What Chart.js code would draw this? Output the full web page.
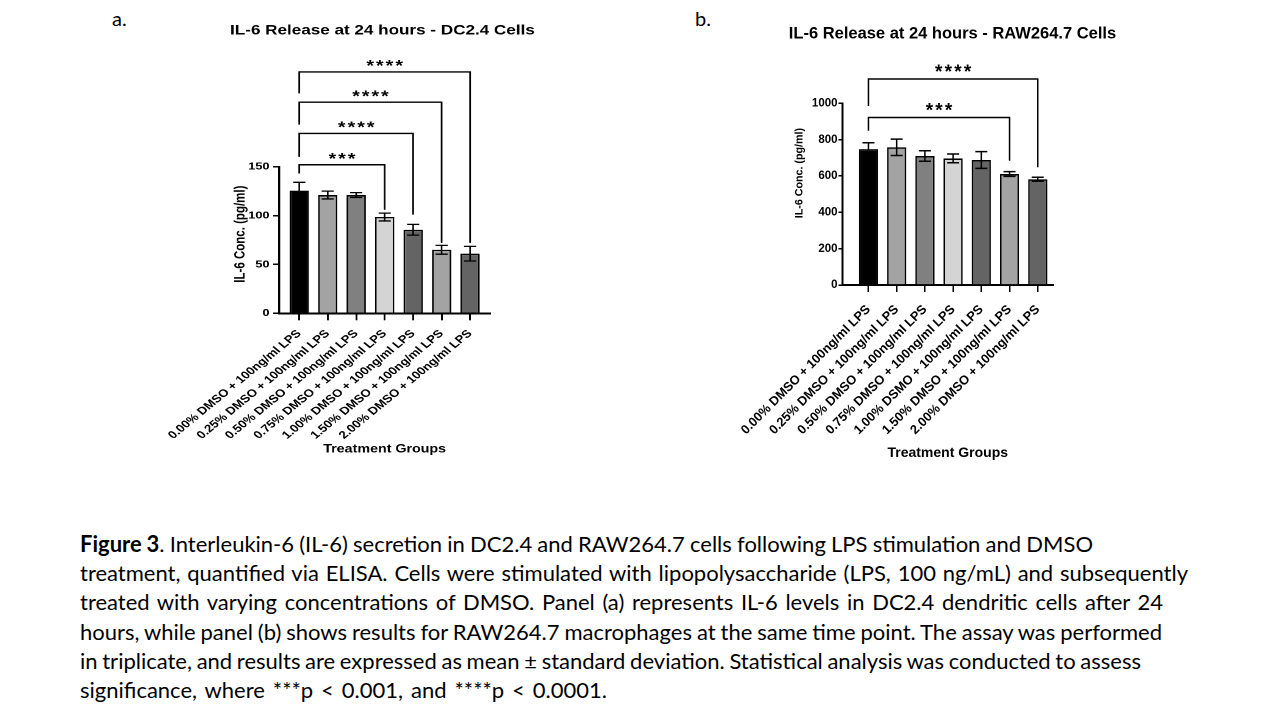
<!DOCTYPE html>
<html>
<head>
<meta charset="utf-8">
<script src="https://cdn.jsdelivr.net/npm/chart.js@4.4.1/dist/chart.umd.min.js"></script>
<style>
  body { margin: 0; width: 1280px; height: 720px; background: #fff; position: relative; overflow: hidden; font-family: Lato, sans-serif; color: #000; }
  .panel { position: absolute; top: 0; height: 470px; }
  #wrapA { left: 150px; width: 381px; transform: scaleX(1.22); transform-origin: 0 0; }
  #wrapB { left: 700px; width: 505px; }
  .tag { position: absolute; top: 4px; font-size: 20px; line-height: 29.2px; }
  #caption { position: absolute; left: 80px; top: 529px; font-size: 22px; line-height: 29.2px; white-space: nowrap; }
</style>
</head>
<body>
<div class="tag" style="left:112px">a.</div>
<div class="tag" style="left:695px">b.</div>
<div class="panel" id="wrapA"><canvas id="chartA"></canvas></div>
<div class="panel" id="wrapB"><canvas id="chartB"></canvas></div>
<div id="caption">
  <div><span><b>Figure 3</b>. Interleukin-6 (IL-6) secretion in DC2.4 and RAW264.7 cells following LPS stimulation and DMSO</span></div>
  <div><span>treatment, quantified via ELISA. Cells were stimulated with lipopolysaccharide (LPS, 100 ng/mL) and subsequently</span></div>
  <div><span>treated with varying concentrations of DMSO. Panel (a) represents IL-6 levels in DC2.4 dendritic cells after 24</span></div>
  <div><span>hours, while panel (b) shows results for RAW264.7 macrophages at the same time point. The assay was performed</span></div>
  <div><span>in triplicate, and results are expressed as mean ± standard deviation. Statistical analysis was conducted to assess</span></div>
  <div><span>significance, where ***p &lt; 0.001, and ****p &lt; 0.0001.</span></div>
</div>
<script>
const groupsA = [
  "0.00% DMSO + 100ng/ml LPS", "0.25% DMSO + 100ng/ml LPS", "0.50% DMSO + 100ng/ml LPS",
  "0.75% DMSO + 100ng/ml LPS", "1.00% DMSO + 100ng/ml LPS", "1.50% DMSO + 100ng/ml LPS",
  "2.00% DMSO + 100ng/ml LPS"
];
const meanA = [125.5, 121, 121, 98.5, 85.5, 65, 61];
const sdA = [8.5, 4, 2.5, 4, 5.5, 4.5, 7.5];
const yTicksA = [0, 50, 100, 150];

const groupsB = [
  "0.00% DMSO + 100ng/ml LPS", "0.25% DMSO + 100ng/ml LPS", "0.50% DMSO + 100ng/ml LPS",
  "0.75% DMSO + 100ng/ml LPS", "1.00% DSMO + 100ng/ml LPS", "1.50% DMSO + 100ng/ml LPS",
  "2.00% DMSO + 100ng/ml LPS"
];
const meanB = [748, 758, 710, 697, 688, 611, 582];
const sdB = [35, 45, 29, 24, 46, 13, 11];
const yTicksB = [0, 200, 400, 600, 800, 1000];

const barColors = ["#000000", "#a3a3a3", "#808080", "#d4d4d4", "#646464", "#a3a3a3", "#646464"];

// significance brackets: all start at group 0
const sigToA = [3, 4, 5, 6];
const sigYA = [152, 184, 216, 247];
const sigLeftEndA = [143, 160, 193, 225];
const sigRightEndA = [106, 101, 72, 72];
const sigTextA = ["***", "****", "****", "****"];

const sigToB = [5, 6];
const sigYB = [922, 1134];
const sigLeftEndB = [849, 985];
const sigRightEndB = [684, 648];
const sigTextB = ["***", "****"];

// right edge of each caption line in the figure
const captionRight = [1093, 1188, 1163, 1162, 1141, 607];

const FONT = "'Liberation Sans', Arial, sans-serif";
const Y_TITLE = "IL-6 Conc. (pg/ml)";

function marksPlugin(o) {
  return {
    id: "marks",
    afterDatasetsDraw(chart) {
      const ctx = chart.ctx;
      const xs = chart.scales.x, ys = chart.scales.y;
      ctx.save();
      ctx.strokeStyle = "#000";
      ctx.lineWidth = o.errW;
      o.means.forEach((m, i) => {
        const x = xs.getPixelForValue(i);
        const top = ys.getPixelForValue(m + o.sds[i]);
        const bot = ys.getPixelForValue(m - o.sds[i]);
        ctx.beginPath();
        ctx.moveTo(x, top); ctx.lineTo(x, bot);
        ctx.moveTo(x - o.cap, top); ctx.lineTo(x + o.cap, top);
        ctx.moveTo(x - o.cap, bot); ctx.lineTo(x + o.cap, bot);
        ctx.stroke();
      });
      ctx.restore();
    },
    afterDraw(chart) {
      const ctx = chart.ctx;
      const xs = chart.scales.x, ys = chart.scales.y;
      ctx.save();
      ctx.strokeStyle = "#000";
      ctx.fillStyle = "#000";
      ctx.lineWidth = o.brW;
      ctx.font = "bold " + o.starSize + "px " + FONT;
      ctx.textAlign = "center";
      ctx.textBaseline = "alphabetic";
      o.sigTo.forEach((to, k) => {
        const x0 = xs.getPixelForValue(0);
        const x1 = xs.getPixelForValue(to);
        const y = ys.getPixelForValue(o.sigY[k]);
        ctx.beginPath();
        ctx.moveTo(x0, ys.getPixelForValue(o.sigLeft[k]));
        ctx.lineTo(x0, y);
        ctx.lineTo(x1, y);
        ctx.lineTo(x1, ys.getPixelForValue(o.sigRight[k]));
        ctx.stroke();
        const n = o.sigText[k].length;
        const cx = (x0 + x1) / 2;
        for (let j = 0; j < n; j++) {
          ctx.fillText("*", cx + (j - (n - 1) / 2) * o.starGap, y - o.starLift);
        }
      });

      // y axis title, centred a little below the middle of the axis like the original
      ctx.font = "bold " + o.yTitleSize + "px " + FONT;
      ctx.textBaseline = "middle";
      ctx.translate(ys.left + o.yTitleX, ys.getPixelForValue(o.yTitleAt));
      ctx.rotate(-Math.PI / 2);
      ctx.fillText(Y_TITLE, 0, 0);
      ctx.restore();
    }
  };
}

function buildChart(id, o) {
  return new Chart(document.getElementById(id), {
    type: "bar",
    data: {
      datasets: [{
        data: o.means.map((v, i) => ({ x: i, y: v })),
        backgroundColor: barColors,
        borderColor: "#000",
        borderWidth: o.barBorder,
        barPercentage: 0.68,
        categoryPercentage: 1
      }]
    },
    options: {
      responsive: true,
      maintainAspectRatio: false,
      animation: false,
      devicePixelRatio: 2,
      layout: { padding: o.padding },
      plugins: {
        legend: { display: false },
        tooltip: { enabled: false },
        title: {
          display: true,
          text: o.title,
          color: "#000",
          font: { family: FONT, size: o.titleSize, weight: "bold" },
          padding: o.titlePad
        }
      },
      scales: {
        x: {
          type: "linear",
          offset: false,
          min: o.xMin,
          max: o.xMax,
          afterBuildTicks: s => { s.ticks = o.labels.map((_, i) => ({ value: i })); },
          afterFit: s => {
            s.height = o.xHeight;
            // keep the long rotated labels from pushing the plot area
            s.paddingLeft = 0;
            s.paddingRight = 0;
          },
          ticks: {
            autoSkip: false,
            minRotation: 45,
            maxRotation: 45,
            padding: o.xTickPad,
            color: "#000",
            font: { family: FONT, size: o.xTickSize, weight: "bold" },
            callback: v => o.labels[v]
          },
          grid: { drawOnChartArea: false, offset: false, tickLength: 7, color: "#000", lineWidth: 1.5 },
          border: { color: "#000", width: 2 },
          title: {
            display: true,
            text: "Treatment Groups",
            color: "#000",
            padding: 0,
            font: { family: FONT, size: o.xTitleSize, weight: "bold" }
          }
        },
        y: {
          min: 0,
          max: o.yMax,
          afterBuildTicks: s => { s.ticks = o.yTicks.map(v => ({ value: v })); },
          afterFit: s => { s.width = o.yWidth; },
          ticks: {
            padding: o.yTickPad,
            color: "#000",
            font: { family: FONT, size: o.yTickSize, weight: "bold" },
            callback: v => String(v)
          },
          grid: { drawOnChartArea: false, tickLength: o.yTickLen, color: "#000", lineWidth: 1.5 },
          border: { color: "#000", width: o.yAxisW }
        },
        // empty axis that only reserves the space right of the plot
        gap: {
          type: "linear",
          position: "right",
          ticks: { display: false },
          grid: { display: false },
          border: { display: false },
          afterFit: s => { s.width = o.rightGap; }
        }
      }
    },
    plugins: [marksPlugin(o)]
  });
}

buildChart("chartA", {
  labels: groupsA, means: meanA, sds: sdA, yTicks: yTicksA, yMax: 150,
  xMin: -0.7, xMax: 6.7,
  title: "IL-6 Release at 24 hours - DC2.4 Cells", titleSize: 14, titlePad: { top: 22, bottom: 127.9 },
  padding: { left: 0, right: 0, top: 0, bottom: 13.5 }, rightGap: 102.3,
  yWidth: 106, yTickSize: 10.5, yTickPad: 3, yTickLen: 5, yAxisW: 1.7,
  yTitleSize: 11.5, yTitleX: 74.2, yTitleAt: 81,
  xHeight: 143.2, xTickSize: 10.8, xTickPad: 7, xTitleSize: 11.7,
  barBorder: 1.4, errW: 1.3, cap: 5, brW: 1.4,
  sigTo: sigToA, sigY: sigYA, sigLeft: sigLeftEndA, sigRight: sigRightEndA, sigText: sigTextA,
  starSize: 16, starGap: 7.9, starLift: 0.8
});

buildChart("chartB", {
  labels: groupsB, means: meanB, sds: sdB, yTicks: yTicksB, yMax: 1000,
  xMin: -0.92, xMax: 6.54,
  title: "IL-6 Release at 24 hours - RAW264.7 Cells", titleSize: 16.5, titlePad: { top: 24, bottom: 59.5 },
  padding: { left: 0, right: 0, top: 0, bottom: 8.6 }, rightGap: 152,
  yWidth: 142.5, yTickSize: 11.5, yTickPad: 1, yTickLen: 4, yAxisW: 2,
  yTitleSize: 10.7, yTitleX: 99.5, yTitleAt: 616,
  xHeight: 176.4, xTickSize: 12.8, xTickPad: 10, xTitleSize: 14,
  barBorder: 1.6, errW: 1.5, cap: 6, brW: 1.5,
  sigTo: sigToB, sigY: sigYB, sigLeft: sigLeftEndB, sigRight: sigRightEndB, sigText: sigTextB,
  starSize: 19, starGap: 9.6, starLift: 1.1
});

// stretch the word gaps so each caption line ends where it does in the figure
const capLeft = document.getElementById("caption").getBoundingClientRect().left;
document.querySelectorAll("#caption span").forEach((span, i) => {
  const gaps = (span.textContent.match(/ /g) || []).length;
  const extra = captionRight[i] - capLeft - span.getBoundingClientRect().width;
  if (gaps) span.style.wordSpacing = (extra / gaps) + "px";
});
</script>
</body>
</html>
